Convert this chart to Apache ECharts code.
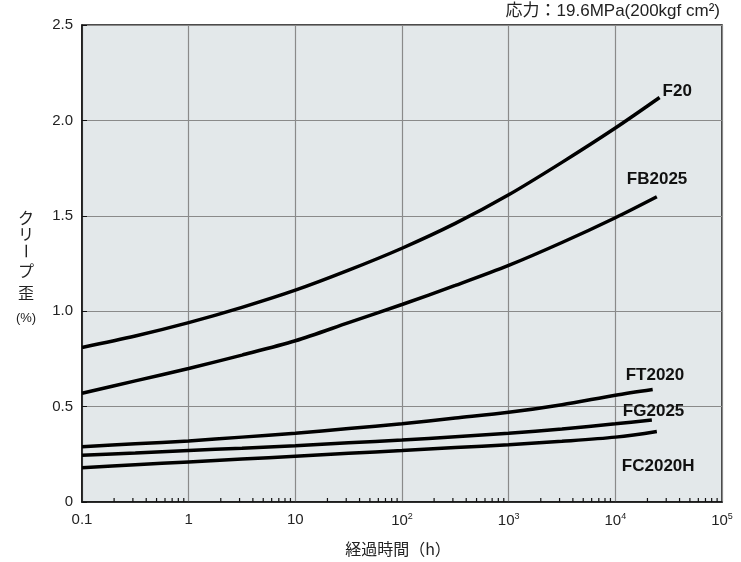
<!DOCTYPE html>
<html><head><meta charset="utf-8">
<script src="https://cdn.jsdelivr.net/npm/echarts@6/dist/echarts.min.js"></script>
<style>html,body{margin:0;padding:0;background:#fff}#c{width:741px;height:562px}</style>
</head><body><div id="c"></div>
<script>
// Data (time in hours, creep strain in %)
const seriesNames = ['F20', 'FB2025', 'FT2020', 'FG2025', 'FC2020H'];
const hours = [0.1, 0.316, 1, 3.16, 10, 31.6, 100, 316, 1000, 3160, 10000];
const F20 = [0.81, 0.87, 0.94, 1.02, 1.11, 1.215, 1.33, 1.46, 1.61, 1.78, 1.96];
const FB2025 = [0.57, 0.635, 0.70, 0.77, 0.845, 0.94, 1.035, 1.135, 1.24, 1.36, 1.49];
const FT2020 = [0.29, 0.305, 0.32, 0.34, 0.36, 0.385, 0.41, 0.44, 0.47, 0.51, 0.56];
const FG2025 = [0.245, 0.257, 0.27, 0.282, 0.295, 0.31, 0.325, 0.342, 0.36, 0.383, 0.41];
const FC2020H = [0.18, 0.195, 0.21, 0.225, 0.24, 0.255, 0.27, 0.285, 0.30, 0.318, 0.34];
// last measured point of each curve [hours, %]
const endPoints = [[26000, 2.12], [24500, 1.60], [22400, 0.59], [22000, 0.43], [24500, 0.37]];
const yTicks = [0, 0.5, 1.0, 1.5, 2.0, 2.5];
const xTickLabels = {'-1':'0.1','0':'1','1':'10','2':'10{s|2}','3':'10{s|3}','4':'10{s|4}','5':'10{s|5}'};
const note = '応力：19.6MPa(200kgf cm²)';
const xName = '経過時間（h）';
const yNameChars = ['ク', 'リ', 'ー', 'プ', '歪'];
const yNameUnit = '(%)';

const allVals = [F20, FB2025, FT2020, FG2025, FC2020H];
const labelOffsets = [[3,-6],[-30,-17],[-27,-14],[-29,-9],[-35,35]];

// minor tick positions on log axis
const minorVals = [];
for (let e = -1; e <= 4; e++) for (let k = 2; k <= 9; k++) minorVals.push([k * Math.pow(10, e), 0]);

const font = 'Liberation Sans, Arial, sans-serif';
const jp = 'Noto Sans CJK JP';
const chart = echarts.init(document.getElementById('c'));
const lineSeries = allVals.map((vals, i) => ({
  name: seriesNames[i], type: 'line',
  data: hours.map((h, j) => [h, vals[j]]).concat([endPoints[i]]),
  smooth: 0.3, showSymbol: false, symbol: 'none',
  lineStyle: {color: '#000', width: 3.5}, z: 5,
  endLabel: {show: true, formatter: seriesNames[i], fontFamily: font, fontWeight: 'bold', fontSize: 17,
    color: '#111', distance: 0, offset: labelOffsets[i]}
}));
const yNameY = [218, 234, 251, 271, 293];
const yNameGraphics = yNameChars.map((ch, i) => ({
  type: 'text', x: 26, y: yNameY[i], rotation: ch === 'ー' ? -Math.PI / 2 : 0,
  style: {text: ch, fontSize: 16, fill: '#222', align: 'center', verticalAlign: 'middle', fontFamily: jp}
})).concat([{type: 'text', x: 26, y: 318,
  style: {text: yNameUnit, fontSize: 13, fill: '#222', align: 'center', verticalAlign: 'middle', fontFamily: font}}]);

chart.setOption({
  animation: false,
  textStyle: {fontFamily: font},
  grid: {left: 82, right: 19, top: 25, bottom: 60, show: true, backgroundColor: '#e3e8ea', borderColor: '#111', borderWidth: 1.5},
  xAxis: {
    type: 'log', logBase: 10, min: 0.1, max: 100000, splitNumber: 6,
    axisLine: {show: true, lineStyle: {color: '#111', width: 1.5}},
    axisTick: {show: false},
    splitLine: {show: true, lineStyle: {color: '#8a8a8a', width: 1.2}},
    axisLabel: {
      margin: 10, color: '#222', fontSize: 15, fontFamily: font,
      formatter: v => xTickLabels[String(Math.round(Math.log10(v)))] || '',
      rich: {s: {fontSize: 9, verticalAlign: 'top', padding: [0, 0, 9, 0], color: '#222', fontFamily: font}}
    },
    name: xName, nameLocation: 'middle', nameGap: 39,
    nameTextStyle: {fontSize: 16, color: '#222', fontFamily: jp, padding: [0, 8, 0, 0]}
  },
  yAxis: {
    type: 'value', min: 0, max: 2.5, interval: 0.5,
    axisLine: {show: true, lineStyle: {color: '#111', width: 1.5}},
    axisTick: {show: true, inside: true, length: 5, lineStyle: {color: '#111'}},
    splitLine: {show: true, lineStyle: {color: '#8a8a8a', width: 1.2}},
    axisLabel: {margin: 9, color: '#222', fontSize: 15, fontFamily: font,
      formatter: v => (yTicks.indexOf(v) >= 0 ? (v === 0 ? '0' : v.toFixed(1)) : '')}
  },
  series: lineSeries.concat([{
    type: 'custom', silent: true, data: minorVals, z: 4,
    renderItem: (params, api) => {
      const p = api.coord([api.value(0), 0]);
      return {type: 'line', shape: {x1: p[0], y1: p[1], x2: p[0], y2: p[1] - 4}, style: {stroke: '#111', lineWidth: 1.2}};
    }
  }]),
  graphic: [
    {type: 'text', right: 21, top: 3, style: {text: note, fontSize: 17, fill: '#222', fontFamily: 'Liberation Sans, Noto Sans CJK JP'}}
  ].concat(yNameGraphics)
});
</script></body></html>
